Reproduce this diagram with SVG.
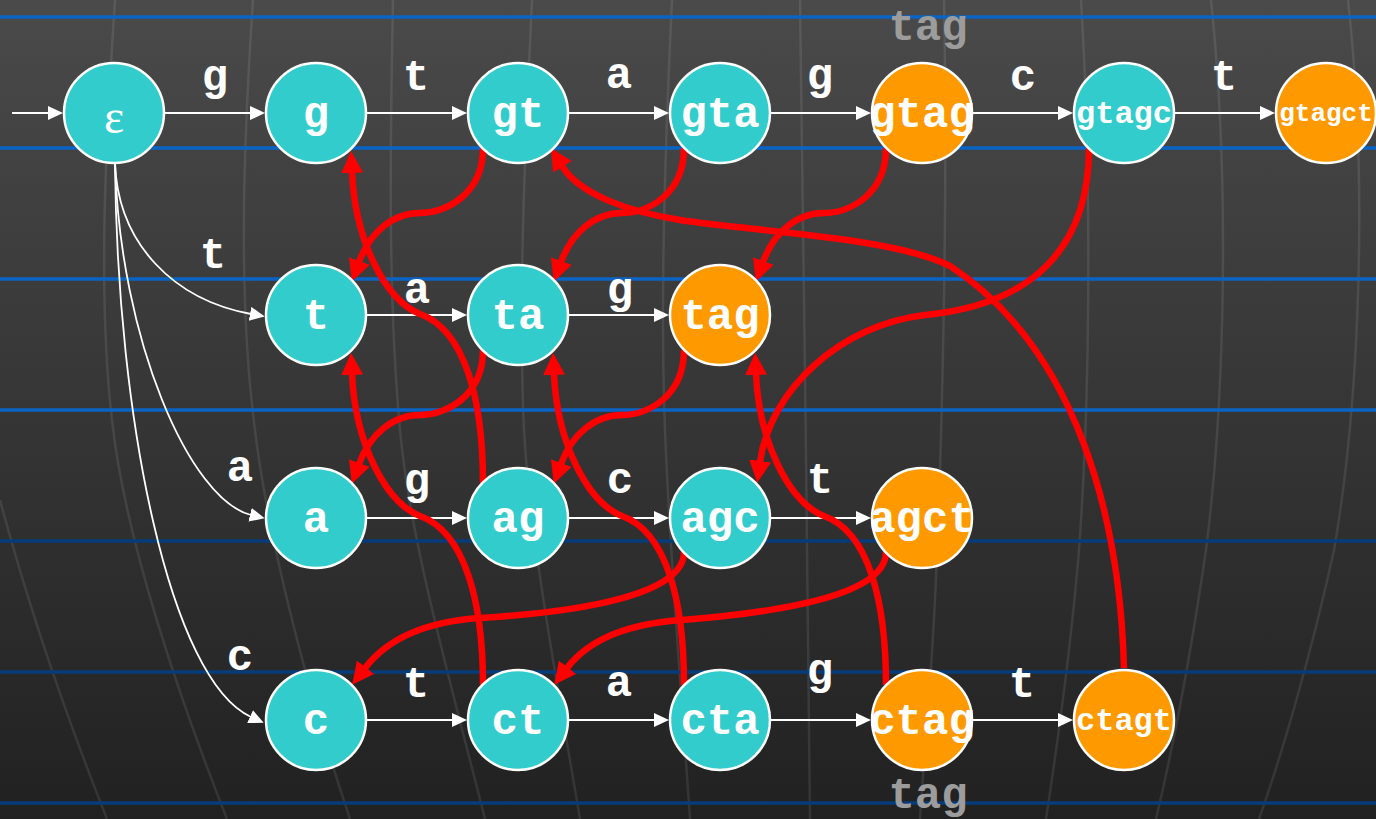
<svg xmlns="http://www.w3.org/2000/svg" width="1376" height="819" viewBox="0 0 1376 819">
<defs>
<linearGradient id="bg" x1="0" y1="0" x2="0" y2="1">
<stop offset="0" stop-color="#4a4a4a"/>
<stop offset="1" stop-color="#212121"/>
</linearGradient>
<marker id="wa" markerUnits="userSpaceOnUse" viewBox="0 0 16 16" markerWidth="16" markerHeight="16" refX="1" refY="7" orient="auto"><path d="M0,0 L15,7 L0,14 z" fill="#fff"/></marker>
<marker id="ra" markerUnits="userSpaceOnUse" viewBox="0 0 24 24" markerWidth="24" markerHeight="24" refX="1" refY="11" orient="auto"><path d="M0,0 L22,11 L0,22 z" fill="#f00"/></marker>
</defs>
<style>
.mer{fill:none;stroke:#fff;stroke-opacity:0.09;stroke-width:2.5}
.bl1{stroke:#0a64c6;stroke-width:3.5}
.bl2{stroke:#063c7a;stroke-width:3.5}
.we{fill:none;stroke:#fff;stroke-width:1.8;marker-end:url(#wa)}
.re{fill:none;stroke:#f00;stroke-width:6.5;marker-end:url(#ra)}
.t{fill:#33cccc;stroke:#fff;stroke-width:2.5}
.o{fill:#ff9900;stroke:#fff;stroke-width:2.5}
.nl{font-family:"Liberation Mono",monospace;font-weight:bold;font-size:44px;fill:#fff;text-anchor:middle}
.s32{font-size:32px}
.s26{font-size:26px}
.el{font-family:"Liberation Mono",monospace;font-weight:bold;font-size:44px;fill:#fff;text-anchor:middle}
.gl{font-family:"Liberation Mono",monospace;font-weight:bold;font-size:44px;fill:#9c9c9c;text-anchor:middle}
</style>
<rect width="1376" height="819" fill="url(#bg)"/>
<g id="meridians">
<path class="mer" d="M0,500 Q40,650 107,819"/>
<path class="mer" d="M115,0 C105,150 98,300 112,420 C125,540 180,700 227,819"/>
<path class="mer" d="M253,0 C243,150 238,300 255,430 C268,540 310,700 350,819"/>
<path class="mer" d="M393,0 C390,150 388,300 400,430 C410,540 450,680 485,819"/>
<path class="mer" d="M532,0 C525,150 518,300 524,430 C530,540 560,700 580,819"/>
<path class="mer" d="M672,0 C665,150 660,300 665,430 C670,560 682,700 690,819"/>
<path class="mer" d="M800,0 C803,200 808,600 810,819"/>
<path class="mer" d="M944,0 C948,200 942,450 935,600 C930,700 922,780 920,819"/>
<path class="mer" d="M1081,0 C1092,180 1090,400 1079,550 C1070,660 1055,760 1046,819"/>
<path class="mer" d="M1211,0 C1230,180 1225,400 1206,550 C1190,660 1170,760 1156,819"/>
<path class="mer" d="M1348,0 C1368,180 1360,400 1334,550 C1310,660 1280,760 1259,819"/>
</g>
<g id="rules">
<line class="bl1" x1="0" y1="17" x2="1376" y2="17"/>
<line class="bl1" x1="0" y1="148" x2="1376" y2="148"/>
<line class="bl1" x1="0" y1="279" x2="1376" y2="279"/>
<line class="bl1" x1="0" y1="410" x2="1376" y2="410"/>
<line class="bl2" x1="0" y1="541" x2="1376" y2="541"/>
<line class="bl2" x1="0" y1="672" x2="1376" y2="672"/>
<line class="bl2" x1="0" y1="803" x2="1376" y2="803"/>
</g>
<text class="gl" x="928" y="40">tag</text>
<text class="gl" x="928" y="808">tag</text>
<g id="connectors">
<path class="we" d="M12,113 L49,113"/>
<path class="we" d="M165,113 L251,113"/>
<path class="we" d="M367,113 L453,113"/>
<path class="we" d="M569,113 L655,113"/>
<path class="we" d="M771,113 L857,113"/>
<path class="we" d="M973,113 L1059,113"/>
<path class="we" d="M1175,113 L1261,113"/>
<path class="we" d="M367,315 L453,315"/>
<path class="we" d="M569,315 L655,315"/>
<path class="we" d="M367,518 L453,518"/>
<path class="we" d="M569,518 L655,518"/>
<path class="we" d="M771,518 L857,518"/>
<path class="we" d="M367,720 L453,720"/>
<path class="we" d="M569,720 L655,720"/>
<path class="we" d="M771,720 L857,720"/>
<path class="we" d="M973,720 L1059,720"/>
<path class="we" d="M115,163 C118,245 175,300 251,314"/>
<path class="we" d="M115,163 C120,340 190,500 251,515"/>
<path class="we" d="M115,163 C117,420 170,680 251,717"/>
<path class="re" d="M483,148 C483,195 445,213 420,213 C393,213 370,232 359,262"/>
<path class="re" d="M684,148 C684,195 647,213 622,213 C595,213 572,232 561,262"/>
<path class="re" d="M886,148 C886,195 849,213 824,213 C797,213 774,232 763,262"/>
<path class="re" d="M483,350 C483,397 445,415 420,415 C393,415 370,434 359,464"/>
<path class="re" d="M684,350 C684,397 647,415 622,415 C595,415 572,434 561,464"/>
<path class="re" d="M684,552 C684,595 580,612 480,618 C420,622 385,642 365,668"/>
<path class="re" d="M886,552 C886,595 782,612 682,620 C622,624 587,642 567,668"/>
<path class="re" d="M1089,148 C1089,250 1030,305 925,315 C840,325 770,390 760,462"/>
<path class="re" d="M1124,668 C1120,520 1078,350 950,266 C895,238 760,232 680,220 C630,212 580,195 562,166"/>
<path class="re" d="M483,483 C483,400 465,330 420,314 C385,300 355,240 352,172"/>
<path class="re" d="M483,685 C483,602 465,532 420,516 C385,502 355,442 352,374"/>
<path class="re" d="M684,685 C684,602 667,532 622,516 C587,502 557,442 554,374"/>
<path class="re" d="M886,685 C886,602 869,532 824,516 C789,502 759,442 756,374"/>
</g>
<g id="edge-labels">
<text class="el" x="215" y="90">g</text>
<text class="el" x="416" y="90">t</text>
<text class="el" x="619" y="88">a</text>
<text class="el" x="820" y="89">g</text>
<text class="el" x="1023" y="90">c</text>
<text class="el" x="1224" y="90">t</text>
<text class="el" x="213" y="268">t</text>
<text class="el" x="417" y="303">a</text>
<text class="el" x="620" y="303">g</text>
<text class="el" x="240" y="481">a</text>
<text class="el" x="417" y="494">g</text>
<text class="el" x="620" y="493">c</text>
<text class="el" x="820" y="493">t</text>
<text class="el" x="240" y="670">c</text>
<text class="el" x="416" y="697">t</text>
<text class="el" x="619" y="696">a</text>
<text class="el" x="820" y="684">g</text>
<text class="el" x="1022" y="697">t</text>
</g>
<g id="n-eps"><circle class="t" cx="114" cy="113" r="50"/><text x="114" y="133" font-family="Liberation Serif, serif" font-size="48" fill="#fff" text-anchor="middle">ε</text></g>
<g id="n-g"><circle class="t" cx="316" cy="113" r="50"/><text class="nl" x="316" y="127">g</text></g>
<g id="n-gt"><circle class="t" cx="518" cy="113" r="50"/><text class="nl" x="518" y="127">gt</text></g>
<g id="n-gta"><circle class="t" cx="720" cy="113" r="50"/><text class="nl" x="720" y="127">gta</text></g>
<g id="n-gtag"><circle class="o" cx="922" cy="113" r="50"/><text class="nl" x="922" y="127">gtag</text></g>
<g id="n-gtagc"><circle class="t" cx="1124" cy="113" r="50"/><text class="nl s32" x="1124" y="123">gtagc</text></g>
<g id="n-gtagct"><circle class="o" cx="1326" cy="113" r="50"/><text class="nl s26" x="1326" y="121">gtagct</text></g>
<g id="n-t"><circle class="t" cx="316" cy="315" r="50"/><text class="nl" x="316" y="329">t</text></g>
<g id="n-ta"><circle class="t" cx="518" cy="315" r="50"/><text class="nl" x="518" y="329">ta</text></g>
<g id="n-tag"><circle class="o" cx="720" cy="315" r="50"/><text class="nl" x="720" y="329">tag</text></g>
<g id="n-a"><circle class="t" cx="316" cy="518" r="50"/><text class="nl" x="316" y="532">a</text></g>
<g id="n-ag"><circle class="t" cx="518" cy="518" r="50"/><text class="nl" x="518" y="532">ag</text></g>
<g id="n-agc"><circle class="t" cx="720" cy="518" r="50"/><text class="nl" x="720" y="532">agc</text></g>
<g id="n-agct"><circle class="o" cx="922" cy="518" r="50"/><text class="nl" x="922" y="532">agct</text></g>
<g id="n-c"><circle class="t" cx="316" cy="720" r="50"/><text class="nl" x="316" y="734">c</text></g>
<g id="n-ct"><circle class="t" cx="518" cy="720" r="50"/><text class="nl" x="518" y="734">ct</text></g>
<g id="n-cta"><circle class="t" cx="720" cy="720" r="50"/><text class="nl" x="720" y="734">cta</text></g>
<g id="n-ctag"><circle class="o" cx="922" cy="720" r="50"/><text class="nl" x="922" y="734">ctag</text></g>
<g id="n-ctagt"><circle class="o" cx="1124" cy="720" r="50"/><text class="nl s32" x="1124" y="730">ctagt</text></g>
</svg>
